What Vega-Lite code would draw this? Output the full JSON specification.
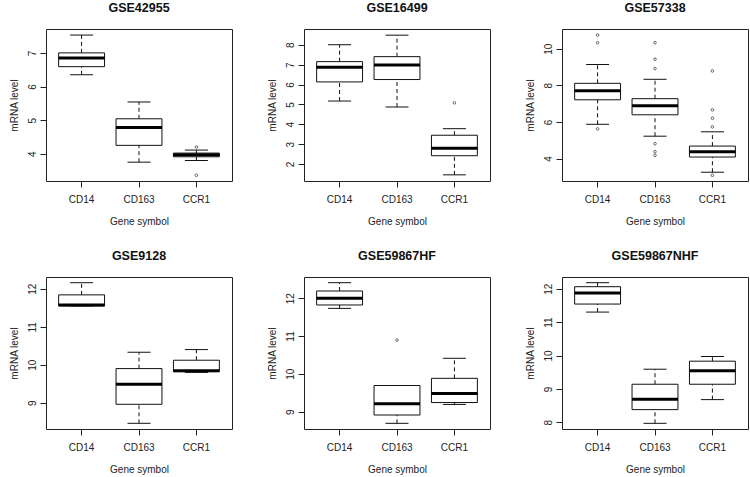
{
  "$schema": "https://vega.github.io/schema/vega-lite/v6.json",
  "padding": {"left": 8, "top": 1, "right": 0, "bottom": 0},
  "background": "white",
  "data": {"values": [
    {"panel": "GSE42955", "gene": "CD14", "lo": 6.35, "q1": 6.59, "med": 6.85, "q3": 7.0, "hi": 7.53},
    {"panel": "GSE42955", "gene": "CD163", "lo": 3.75, "q1": 4.25, "med": 4.78, "q3": 5.04, "hi": 5.54},
    {"panel": "GSE42955", "gene": "CCR1", "lo": 3.8, "q1": 3.91, "med": 3.97, "q3": 4.02, "hi": 4.11},
    {"panel": "GSE42955", "gene": "CCR1", "value": 4.2},
    {"panel": "GSE42955", "gene": "CCR1", "value": 3.36},
    {"panel": "GSE16499", "gene": "CD14", "lo": 5.17, "q1": 6.13, "med": 6.87, "q3": 7.15, "hi": 8.0},
    {"panel": "GSE16499", "gene": "CD163", "lo": 4.87, "q1": 6.25, "med": 6.98, "q3": 7.4, "hi": 8.48},
    {"panel": "GSE16499", "gene": "CCR1", "lo": 1.46, "q1": 2.42, "med": 2.8, "q3": 3.45, "hi": 3.78},
    {"panel": "GSE16499", "gene": "CCR1", "value": 5.08},
    {"panel": "GSE57338", "gene": "CD14", "lo": 5.87, "q1": 7.21, "med": 7.7, "q3": 8.11, "hi": 9.14},
    {"panel": "GSE57338", "gene": "CD163", "lo": 5.22, "q1": 6.39, "med": 6.88, "q3": 7.27, "hi": 8.33},
    {"panel": "GSE57338", "gene": "CCR1", "lo": 3.25, "q1": 4.08, "med": 4.37, "q3": 4.68, "hi": 5.46},
    {"panel": "GSE57338", "gene": "CD14", "value": 10.75},
    {"panel": "GSE57338", "gene": "CD14", "value": 10.33},
    {"panel": "GSE57338", "gene": "CD14", "value": 5.62},
    {"panel": "GSE57338", "gene": "CD163", "value": 10.33},
    {"panel": "GSE57338", "gene": "CD163", "value": 9.43},
    {"panel": "GSE57338", "gene": "CD163", "value": 8.92},
    {"panel": "GSE57338", "gene": "CD163", "value": 4.81},
    {"panel": "GSE57338", "gene": "CD163", "value": 4.37},
    {"panel": "GSE57338", "gene": "CD163", "value": 4.17},
    {"panel": "GSE57338", "gene": "CCR1", "value": 8.79},
    {"panel": "GSE57338", "gene": "CCR1", "value": 6.66},
    {"panel": "GSE57338", "gene": "CCR1", "value": 6.2},
    {"panel": "GSE57338", "gene": "CCR1", "value": 5.73},
    {"panel": "GSE57338", "gene": "CCR1", "value": 3.08},
    {"panel": "GSE9128", "gene": "CD14", "lo": 11.55, "q1": 11.55, "med": 11.57, "q3": 11.84, "hi": 12.16},
    {"panel": "GSE9128", "gene": "CD163", "lo": 8.46, "q1": 8.96, "med": 9.49, "q3": 9.9, "hi": 10.33},
    {"panel": "GSE9128", "gene": "CCR1", "lo": 9.8, "q1": 9.82, "med": 9.84, "q3": 10.12, "hi": 10.4},
    {"panel": "GSE59867HF", "gene": "CD14", "lo": 11.73, "q1": 11.82, "med": 12.0, "q3": 12.19, "hi": 12.41},
    {"panel": "GSE59867HF", "gene": "CD163", "lo": 8.69, "q1": 8.91, "med": 9.21, "q3": 9.69, "hi": 9.69},
    {"panel": "GSE59867HF", "gene": "CCR1", "lo": 9.19, "q1": 9.24, "med": 9.48, "q3": 9.88, "hi": 10.41},
    {"panel": "GSE59867HF", "gene": "CD163", "value": 10.89},
    {"panel": "GSE59867NHF", "gene": "CD14", "lo": 11.3, "q1": 11.54, "med": 11.87, "q3": 12.06, "hi": 12.18},
    {"panel": "GSE59867NHF", "gene": "CD163", "lo": 7.97, "q1": 8.38, "med": 8.69, "q3": 9.14, "hi": 9.59},
    {"panel": "GSE59867NHF", "gene": "CCR1", "lo": 8.68, "q1": 9.14, "med": 9.54, "q3": 9.83, "hi": 9.97}
  ]},
  "columns": 3,
  "bounds": "flush",
  "spacing": {"column": 72, "row": 96},
  "concat": [
    {
      "title": "GSE42955", "width": 186, "height": 152,
      "transform": [{"filter": "datum.panel === 'GSE42955'"}],
      "encoding": {"x": {"field": "gene", "type": "nominal", "sort": ["CD14", "CD163", "CCR1"], "title": "Gene symbol", "scale": {"paddingInner": 0.2, "paddingOuter": 0.22}}},
      "layer": [
        {"mark": {"type": "rule", "color": "#111", "strokeDash": [4, 3]}, "encoding": {"y": {"field": "lo", "type": "quantitative", "title": "mRNA level", "scale": {"domain": [3.19, 7.71], "nice": false, "zero": false}, "axis": {"values": [4, 5, 6, 7], "labelAngle": -90}}, "y2": {"field": "q1"}}},
        {"mark": {"type": "rule", "color": "#111", "strokeDash": [4, 3]}, "encoding": {"y": {"field": "q3", "type": "quantitative", "title": "mRNA level", "scale": {"domain": [3.19, 7.71], "nice": false, "zero": false}, "axis": {"values": [4, 5, 6, 7], "labelAngle": -90}}, "y2": {"field": "hi"}}},
        {"mark": {"type": "bar", "fill": "white", "stroke": "#111", "strokeWidth": 1}, "encoding": {"y": {"field": "q1", "type": "quantitative", "title": "mRNA level", "scale": {"domain": [3.19, 7.71], "nice": false, "zero": false}, "axis": {"values": [4, 5, 6, 7], "labelAngle": -90}}, "y2": {"field": "q3"}}},
        {"mark": {"type": "tick", "color": "#111", "opacity": 1, "size": 23, "thickness": 1}, "encoding": {"y": {"field": "lo", "type": "quantitative", "title": "mRNA level", "scale": {"domain": [3.19, 7.71], "nice": false, "zero": false}, "axis": {"values": [4, 5, 6, 7], "labelAngle": -90}}}},
        {"mark": {"type": "tick", "color": "#111", "opacity": 1, "size": 23, "thickness": 1}, "encoding": {"y": {"field": "hi", "type": "quantitative", "title": "mRNA level", "scale": {"domain": [3.19, 7.71], "nice": false, "zero": false}, "axis": {"values": [4, 5, 6, 7], "labelAngle": -90}}}},
        {"mark": {"type": "tick", "color": "#000", "opacity": 1, "size": 46, "thickness": 3}, "encoding": {"y": {"field": "med", "type": "quantitative", "title": "mRNA level", "scale": {"domain": [3.19, 7.71], "nice": false, "zero": false}, "axis": {"values": [4, 5, 6, 7], "labelAngle": -90}}}},
        {"mark": {"type": "point", "shape": "circle", "filled": false, "size": 7, "color": "#333", "strokeWidth": 0.7, "opacity": 1}, "encoding": {"y": {"field": "value", "type": "quantitative", "title": "mRNA level", "scale": {"domain": [3.19, 7.71], "nice": false, "zero": false}, "axis": {"values": [4, 5, 6, 7], "labelAngle": -90}}}}
      ]
    },
    {
      "title": "GSE16499", "width": 186, "height": 152,
      "transform": [{"filter": "datum.panel === 'GSE16499'"}],
      "encoding": {"x": {"field": "gene", "type": "nominal", "sort": ["CD14", "CD163", "CCR1"], "title": "Gene symbol", "scale": {"paddingInner": 0.2, "paddingOuter": 0.22}}},
      "layer": [
        {"mark": {"type": "rule", "color": "#111", "strokeDash": [4, 3]}, "encoding": {"y": {"field": "lo", "type": "quantitative", "title": "mRNA level", "scale": {"domain": [1.15, 8.79], "nice": false, "zero": false}, "axis": {"values": [2, 3, 4, 5, 6, 7, 8], "labelAngle": -90}}, "y2": {"field": "q1"}}},
        {"mark": {"type": "rule", "color": "#111", "strokeDash": [4, 3]}, "encoding": {"y": {"field": "q3", "type": "quantitative", "title": "mRNA level", "scale": {"domain": [1.15, 8.79], "nice": false, "zero": false}, "axis": {"values": [2, 3, 4, 5, 6, 7, 8], "labelAngle": -90}}, "y2": {"field": "hi"}}},
        {"mark": {"type": "bar", "fill": "white", "stroke": "#111", "strokeWidth": 1}, "encoding": {"y": {"field": "q1", "type": "quantitative", "title": "mRNA level", "scale": {"domain": [1.15, 8.79], "nice": false, "zero": false}, "axis": {"values": [2, 3, 4, 5, 6, 7, 8], "labelAngle": -90}}, "y2": {"field": "q3"}}},
        {"mark": {"type": "tick", "color": "#111", "opacity": 1, "size": 23, "thickness": 1}, "encoding": {"y": {"field": "lo", "type": "quantitative", "title": "mRNA level", "scale": {"domain": [1.15, 8.79], "nice": false, "zero": false}, "axis": {"values": [2, 3, 4, 5, 6, 7, 8], "labelAngle": -90}}}},
        {"mark": {"type": "tick", "color": "#111", "opacity": 1, "size": 23, "thickness": 1}, "encoding": {"y": {"field": "hi", "type": "quantitative", "title": "mRNA level", "scale": {"domain": [1.15, 8.79], "nice": false, "zero": false}, "axis": {"values": [2, 3, 4, 5, 6, 7, 8], "labelAngle": -90}}}},
        {"mark": {"type": "tick", "color": "#000", "opacity": 1, "size": 46, "thickness": 3}, "encoding": {"y": {"field": "med", "type": "quantitative", "title": "mRNA level", "scale": {"domain": [1.15, 8.79], "nice": false, "zero": false}, "axis": {"values": [2, 3, 4, 5, 6, 7, 8], "labelAngle": -90}}}},
        {"mark": {"type": "point", "shape": "circle", "filled": false, "size": 7, "color": "#333", "strokeWidth": 0.7, "opacity": 1}, "encoding": {"y": {"field": "value", "type": "quantitative", "title": "mRNA level", "scale": {"domain": [1.15, 8.79], "nice": false, "zero": false}, "axis": {"values": [2, 3, 4, 5, 6, 7, 8], "labelAngle": -90}}}}
      ]
    },
    {
      "title": "GSE57338", "width": 186, "height": 152,
      "transform": [{"filter": "datum.panel === 'GSE57338'"}],
      "encoding": {"x": {"field": "gene", "type": "nominal", "sort": ["CD14", "CD163", "CCR1"], "title": "Gene symbol", "scale": {"paddingInner": 0.2, "paddingOuter": 0.22}}},
      "layer": [
        {"mark": {"type": "rule", "color": "#111", "strokeDash": [4, 3]}, "encoding": {"y": {"field": "lo", "type": "quantitative", "title": "mRNA level", "scale": {"domain": [2.77, 11.08], "nice": false, "zero": false}, "axis": {"values": [4, 6, 8, 10], "labelAngle": -90}}, "y2": {"field": "q1"}}},
        {"mark": {"type": "rule", "color": "#111", "strokeDash": [4, 3]}, "encoding": {"y": {"field": "q3", "type": "quantitative", "title": "mRNA level", "scale": {"domain": [2.77, 11.08], "nice": false, "zero": false}, "axis": {"values": [4, 6, 8, 10], "labelAngle": -90}}, "y2": {"field": "hi"}}},
        {"mark": {"type": "bar", "fill": "white", "stroke": "#111", "strokeWidth": 1}, "encoding": {"y": {"field": "q1", "type": "quantitative", "title": "mRNA level", "scale": {"domain": [2.77, 11.08], "nice": false, "zero": false}, "axis": {"values": [4, 6, 8, 10], "labelAngle": -90}}, "y2": {"field": "q3"}}},
        {"mark": {"type": "tick", "color": "#111", "opacity": 1, "size": 23, "thickness": 1}, "encoding": {"y": {"field": "lo", "type": "quantitative", "title": "mRNA level", "scale": {"domain": [2.77, 11.08], "nice": false, "zero": false}, "axis": {"values": [4, 6, 8, 10], "labelAngle": -90}}}},
        {"mark": {"type": "tick", "color": "#111", "opacity": 1, "size": 23, "thickness": 1}, "encoding": {"y": {"field": "hi", "type": "quantitative", "title": "mRNA level", "scale": {"domain": [2.77, 11.08], "nice": false, "zero": false}, "axis": {"values": [4, 6, 8, 10], "labelAngle": -90}}}},
        {"mark": {"type": "tick", "color": "#000", "opacity": 1, "size": 46, "thickness": 3}, "encoding": {"y": {"field": "med", "type": "quantitative", "title": "mRNA level", "scale": {"domain": [2.77, 11.08], "nice": false, "zero": false}, "axis": {"values": [4, 6, 8, 10], "labelAngle": -90}}}},
        {"mark": {"type": "point", "shape": "circle", "filled": false, "size": 7, "color": "#333", "strokeWidth": 0.7, "opacity": 1}, "encoding": {"y": {"field": "value", "type": "quantitative", "title": "mRNA level", "scale": {"domain": [2.77, 11.08], "nice": false, "zero": false}, "axis": {"values": [4, 6, 8, 10], "labelAngle": -90}}}}
      ]
    },
    {
      "title": "GSE9128", "width": 186, "height": 152,
      "transform": [{"filter": "datum.panel === 'GSE9128'"}],
      "encoding": {"x": {"field": "gene", "type": "nominal", "sort": ["CD14", "CD163", "CCR1"], "title": "Gene symbol", "scale": {"paddingInner": 0.2, "paddingOuter": 0.22}}},
      "layer": [
        {"mark": {"type": "rule", "color": "#111", "strokeDash": [4, 3]}, "encoding": {"y": {"field": "lo", "type": "quantitative", "title": "mRNA level", "scale": {"domain": [8.31, 12.31], "nice": false, "zero": false}, "axis": {"values": [9, 10, 11, 12], "labelAngle": -90}}, "y2": {"field": "q1"}}},
        {"mark": {"type": "rule", "color": "#111", "strokeDash": [4, 3]}, "encoding": {"y": {"field": "q3", "type": "quantitative", "title": "mRNA level", "scale": {"domain": [8.31, 12.31], "nice": false, "zero": false}, "axis": {"values": [9, 10, 11, 12], "labelAngle": -90}}, "y2": {"field": "hi"}}},
        {"mark": {"type": "bar", "fill": "white", "stroke": "#111", "strokeWidth": 1}, "encoding": {"y": {"field": "q1", "type": "quantitative", "title": "mRNA level", "scale": {"domain": [8.31, 12.31], "nice": false, "zero": false}, "axis": {"values": [9, 10, 11, 12], "labelAngle": -90}}, "y2": {"field": "q3"}}},
        {"mark": {"type": "tick", "color": "#111", "opacity": 1, "size": 23, "thickness": 1}, "encoding": {"y": {"field": "lo", "type": "quantitative", "title": "mRNA level", "scale": {"domain": [8.31, 12.31], "nice": false, "zero": false}, "axis": {"values": [9, 10, 11, 12], "labelAngle": -90}}}},
        {"mark": {"type": "tick", "color": "#111", "opacity": 1, "size": 23, "thickness": 1}, "encoding": {"y": {"field": "hi", "type": "quantitative", "title": "mRNA level", "scale": {"domain": [8.31, 12.31], "nice": false, "zero": false}, "axis": {"values": [9, 10, 11, 12], "labelAngle": -90}}}},
        {"mark": {"type": "tick", "color": "#000", "opacity": 1, "size": 46, "thickness": 3}, "encoding": {"y": {"field": "med", "type": "quantitative", "title": "mRNA level", "scale": {"domain": [8.31, 12.31], "nice": false, "zero": false}, "axis": {"values": [9, 10, 11, 12], "labelAngle": -90}}}},
        {"mark": {"type": "point", "shape": "circle", "filled": false, "size": 7, "color": "#333", "strokeWidth": 0.7, "opacity": 1}, "encoding": {"y": {"field": "value", "type": "quantitative", "title": "mRNA level", "scale": {"domain": [8.31, 12.31], "nice": false, "zero": false}, "axis": {"values": [9, 10, 11, 12], "labelAngle": -90}}}}
      ]
    },
    {
      "title": "GSE59867HF", "width": 186, "height": 152,
      "transform": [{"filter": "datum.panel === 'GSE59867HF'"}],
      "encoding": {"x": {"field": "gene", "type": "nominal", "sort": ["CD14", "CD163", "CCR1"], "title": "Gene symbol", "scale": {"paddingInner": 0.2, "paddingOuter": 0.22}}},
      "layer": [
        {"mark": {"type": "rule", "color": "#111", "strokeDash": [4, 3]}, "encoding": {"y": {"field": "lo", "type": "quantitative", "title": "mRNA level", "scale": {"domain": [8.54, 12.56], "nice": false, "zero": false}, "axis": {"values": [9, 10, 11, 12], "labelAngle": -90}}, "y2": {"field": "q1"}}},
        {"mark": {"type": "rule", "color": "#111", "strokeDash": [4, 3]}, "encoding": {"y": {"field": "q3", "type": "quantitative", "title": "mRNA level", "scale": {"domain": [8.54, 12.56], "nice": false, "zero": false}, "axis": {"values": [9, 10, 11, 12], "labelAngle": -90}}, "y2": {"field": "hi"}}},
        {"mark": {"type": "bar", "fill": "white", "stroke": "#111", "strokeWidth": 1}, "encoding": {"y": {"field": "q1", "type": "quantitative", "title": "mRNA level", "scale": {"domain": [8.54, 12.56], "nice": false, "zero": false}, "axis": {"values": [9, 10, 11, 12], "labelAngle": -90}}, "y2": {"field": "q3"}}},
        {"mark": {"type": "tick", "color": "#111", "opacity": 1, "size": 23, "thickness": 1}, "encoding": {"y": {"field": "lo", "type": "quantitative", "title": "mRNA level", "scale": {"domain": [8.54, 12.56], "nice": false, "zero": false}, "axis": {"values": [9, 10, 11, 12], "labelAngle": -90}}}},
        {"mark": {"type": "tick", "color": "#111", "opacity": 1, "size": 23, "thickness": 1}, "encoding": {"y": {"field": "hi", "type": "quantitative", "title": "mRNA level", "scale": {"domain": [8.54, 12.56], "nice": false, "zero": false}, "axis": {"values": [9, 10, 11, 12], "labelAngle": -90}}}},
        {"mark": {"type": "tick", "color": "#000", "opacity": 1, "size": 46, "thickness": 3}, "encoding": {"y": {"field": "med", "type": "quantitative", "title": "mRNA level", "scale": {"domain": [8.54, 12.56], "nice": false, "zero": false}, "axis": {"values": [9, 10, 11, 12], "labelAngle": -90}}}},
        {"mark": {"type": "point", "shape": "circle", "filled": false, "size": 7, "color": "#333", "strokeWidth": 0.7, "opacity": 1}, "encoding": {"y": {"field": "value", "type": "quantitative", "title": "mRNA level", "scale": {"domain": [8.54, 12.56], "nice": false, "zero": false}, "axis": {"values": [9, 10, 11, 12], "labelAngle": -90}}}}
      ]
    },
    {
      "title": "GSE59867NHF", "width": 186, "height": 152,
      "transform": [{"filter": "datum.panel === 'GSE59867NHF'"}],
      "encoding": {"x": {"field": "gene", "type": "nominal", "sort": ["CD14", "CD163", "CCR1"], "title": "Gene symbol", "scale": {"paddingInner": 0.2, "paddingOuter": 0.22}}},
      "layer": [
        {"mark": {"type": "rule", "color": "#111", "strokeDash": [4, 3]}, "encoding": {"y": {"field": "lo", "type": "quantitative", "title": "mRNA level", "scale": {"domain": [7.8, 12.35], "nice": false, "zero": false}, "axis": {"values": [8, 9, 10, 11, 12], "labelAngle": -90}}, "y2": {"field": "q1"}}},
        {"mark": {"type": "rule", "color": "#111", "strokeDash": [4, 3]}, "encoding": {"y": {"field": "q3", "type": "quantitative", "title": "mRNA level", "scale": {"domain": [7.8, 12.35], "nice": false, "zero": false}, "axis": {"values": [8, 9, 10, 11, 12], "labelAngle": -90}}, "y2": {"field": "hi"}}},
        {"mark": {"type": "bar", "fill": "white", "stroke": "#111", "strokeWidth": 1}, "encoding": {"y": {"field": "q1", "type": "quantitative", "title": "mRNA level", "scale": {"domain": [7.8, 12.35], "nice": false, "zero": false}, "axis": {"values": [8, 9, 10, 11, 12], "labelAngle": -90}}, "y2": {"field": "q3"}}},
        {"mark": {"type": "tick", "color": "#111", "opacity": 1, "size": 23, "thickness": 1}, "encoding": {"y": {"field": "lo", "type": "quantitative", "title": "mRNA level", "scale": {"domain": [7.8, 12.35], "nice": false, "zero": false}, "axis": {"values": [8, 9, 10, 11, 12], "labelAngle": -90}}}},
        {"mark": {"type": "tick", "color": "#111", "opacity": 1, "size": 23, "thickness": 1}, "encoding": {"y": {"field": "hi", "type": "quantitative", "title": "mRNA level", "scale": {"domain": [7.8, 12.35], "nice": false, "zero": false}, "axis": {"values": [8, 9, 10, 11, 12], "labelAngle": -90}}}},
        {"mark": {"type": "tick", "color": "#000", "opacity": 1, "size": 46, "thickness": 3}, "encoding": {"y": {"field": "med", "type": "quantitative", "title": "mRNA level", "scale": {"domain": [7.8, 12.35], "nice": false, "zero": false}, "axis": {"values": [8, 9, 10, 11, 12], "labelAngle": -90}}}},
        {"mark": {"type": "point", "shape": "circle", "filled": false, "size": 7, "color": "#333", "strokeWidth": 0.7, "opacity": 1}, "encoding": {"y": {"field": "value", "type": "quantitative", "title": "mRNA level", "scale": {"domain": [7.8, 12.35], "nice": false, "zero": false}, "axis": {"values": [8, 9, 10, 11, 12], "labelAngle": -90}}}}
      ]
    }
  ],
  "config": {
    "font": "Liberation Sans",
    "view": {"stroke": "#222", "strokeWidth": 1},
    "axis": {"domain": false, "grid": false, "tickColor": "#222", "labelColor": "#222", "titleColor": "#222", "labelFont": "Liberation Sans", "titleFont": "Liberation Sans", "labelFontSize": 10, "titleFontSize": 10, "titleFontWeight": "normal"},
    "axisX": {"labelAngle": 0, "labelPadding": 7, "titlePadding": 12, "tickSize": 6, "bandPosition": 0.5},
    "axisY": {"labelAlign": "center", "labelBaseline": "bottom", "labelPadding": 3, "titlePadding": 8, "tickSize": 6},
    "title": {"font": "Liberation Sans", "fontSize": 12.5, "fontWeight": "bold", "color": "#111", "offset": 15, "anchor": "middle"}
  }
}
